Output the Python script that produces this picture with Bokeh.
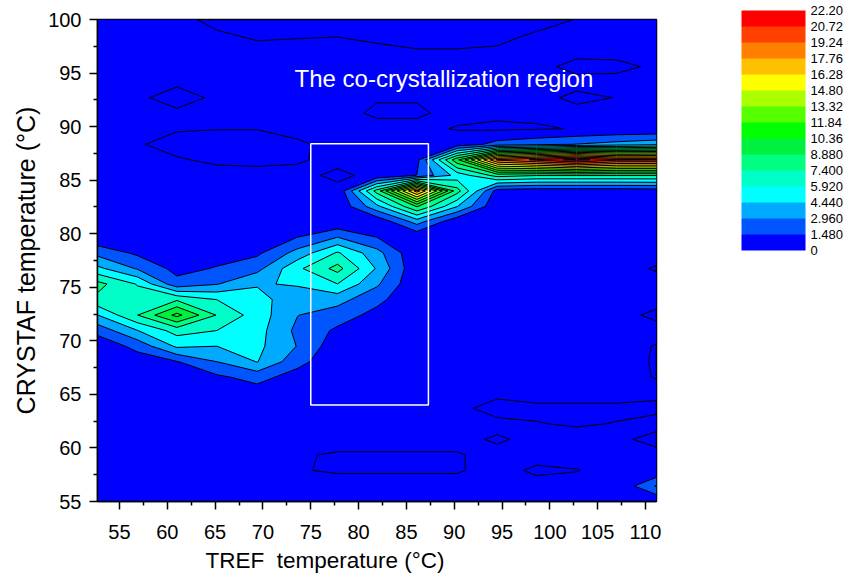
import numpy as np
from bokeh.plotting import figure
from bokeh.models import Range1d, FixedTicker, Label, ColorBar, LinearColorMapper, Title
from bokeh.embed import file_html
from bokeh.resources import INLINE

# ---- data ----
TREF = [52.7, 56.9, 61.0, 65.2, 69.4, 73.6, 77.8, 81.9, 86.1, 90.3, 94.5, 98.6, 102.8, 107.0, 111.15]
CRYSTAF = [55.0, 56.45, 57.9, 59.35, 60.8, 62.25, 63.7, 65.15, 66.6, 68.05, 69.5, 70.95,
           72.4, 73.85, 75.3, 76.75, 78.2, 79.65, 81.1, 82.55, 84.0, 85.45, 86.9, 88.35,
           89.8, 91.25, 92.7, 94.15, 95.6, 97.05, 98.5, 100.0]

# one row per CRYSTAF value (columns follow TREF)
Z_100_0 = [0.2, 0.2, 0.2, -0.2, -0.3, -0.3, -0.3, -0.3, -0.3, -0.3, -0.3, -0.3, 0.02, 0.2, 0.2]
Z_98_5 = [0.2, 0.2, 0.2, 0.1, -0.1, -0.05, -0.02, -0.2, -0.3, -0.3, -0.2, 0.1, 0.2, 0.2, 0.2]
Z_97_05 = [0.2, 0.2, 0.2, 0.2, 0.2, 0.2, 0.2, 0.2, 0.05, 0.05, 0.1, 0.2, 0.2, 0.2, 0.2]
Z_95_6 = [0.2, 0.2, 0.2, 0.2, 0.2, 0.2, 0.2, 0.2, 0.2, 0.2, 0.2, 0.2, -0.2, -0.15, 0.1]
Z_94_15 = [0.2, 0.2, 0.2, 0.2, 0.2, 0.2, 0.2, 0.2, 0.2, 0.2, 0.2, 0.2, 0.2, 0.2, 0.2]
Z_92_7 = [0.2, 0.2, -0.45, 0.2, 0.2, 0.2, 0.2, 0.05, 0.05, 0.2, 0.2, 0.2, -0.15, 0.02, 0.2]
Z_91_25 = [0.2, 0.2, 0.2, 0.2, 0.2, 0.2, 0.2, -0.1, -0.1, 0.2, 0.2, 0.2, 0.2, 0.2, 0.2]
Z_89_8 = [0.2, 0.2, 0.05, 0.02, 0.02, 0.2, 0.2, 0.2, 0.2, -0.05, -0.2, -0.1, 0.05, 0.2, 0.2]
Z_88_35 = [0.2, 0.05, -0.2, -0.3, -0.3, -0.1, 0.2, 0.2, 0.2, 0.5, 2.0, 2.5, 3.0, 3.5, 4.0]
Z_86_9 = [0.2, 0.2, 0.05, -0.1, -0.15, -0.08, 0.2, 0.2, 1.0, 10.0, 19.5, 21.0, 22.8, 21.0, 20.9]
Z_85_45 = [0.2, 0.2, 0.2, 0.2, 0.2, 0.2, -0.15, 0.2, 1.5, 5.0, 8.0, 7.5, 7.5, 7.5, 7.5]
Z_84_0 = [0.2, 0.2, 0.2, 0.2, 0.2, 0.2, 0.2, 8.0, 18.5, 8.0, 0.8, 0.5, 0.5, 0.5, 0.6]
Z_82_55 = [0.2, 0.2, 0.2, 0.2, 0.2, 0.2, 0.2, 4.0, 9.0, 4.5, 0.2, 0.2, 0.2, 0.2, 0.2]
Z_81_1 = [0.2, 0.2, 0.2, 0.2, 0.2, 0.3, 0.24, 0.2, 3.5, 0.2, 0.2, 0.2, 0.2, 0.2, 0.2]
Z_79_65 = [0.3, 0.2, 0.2, 0.2, 0.3, 1.5, 3.0, 1.5, 0.2, 0.2, 0.2, 0.2, 0.2, 0.2, 0.2]
Z_78_2 = [2.5, 1.2, 0.4, 0.8, 1.2, 3.5, 6.1, 3.5, 0.2, 0.2, 0.2, 0.2, 0.2, 0.2, 0.2]
Z_76_75 = [4.8, 2.8, 1.0, 1.6, 2.5, 5.6, 7.9, 4.3, 0.2, 0.2, 0.2, 0.2, 0.2, 0.2, -0.05]
Z_75_3 = [7.9, 5.8, 2.0, 2.9, 4.3, 4.6, 5.9, 3.2, 0.2, 0.2, 0.2, 0.2, 0.2, 0.2, 0.2]
Z_73_85 = [7.0, 6.8, 7.2, 5.9, 5.0, 3.5, 3.5, 1.9, 0.2, 0.2, 0.2, 0.2, 0.2, 0.2, 0.2]
Z_72_4 = [4.4, 7.4, 10.8, 7.3, 5.2, 3.0, 2.2, 1.0, 0.2, 0.2, 0.2, 0.2, 0.2, 0.2, -0.13]
Z_70_95 = [2.0, 4.4, 6.5, 5.9, 5.0, 2.6, 1.2, 0.4, 0.2, 0.2, 0.2, 0.2, 0.2, 0.2, 0.2]
Z_69_5 = [0.3, 2.0, 4.7, 4.44, 4.8, 2.9, 0.5, 0.2, 0.2, 0.2, 0.2, 0.2, 0.2, 0.2, -0.03]
Z_68_05 = [0.2, 0.6, 1.4, 2.96, 4.5, 2.0, 0.3, 0.2, 0.2, 0.2, 0.2, 0.2, 0.2, 0.2, -0.05]
Z_66_6 = [0.2, 0.2, 0.3, 1.2, 2.0, 0.8, 0.2, 0.2, 0.2, 0.2, 0.2, 0.2, 0.2, 0.2, -0.03]
Z_65_15 = [0.2, 0.2, 0.2, 0.3, 0.8, 0.2, 0.2, 0.2, 0.2, 0.2, 0.2, 0.2, 0.2, 0.2, 0.2]
Z_63_7 = [0.2, 0.2, 0.2, 0.2, 0.2, 0.2, 0.2, 0.2, 0.2, 0.2, -0.3, -0.1, -0.1, -0.1, -0.2]
Z_62_25 = [0.2, 0.2, 0.2, 0.2, 0.2, 0.2, 0.2, 0.2, 0.2, 0.2, 0.2, 0.02, -0.05, 0.02, 0.3]
Z_60_8 = [0.2, 0.2, 0.2, 0.2, 0.2, 0.2, 0.2, 0.2, 0.2, 0.2, -0.09, 0.2, 0.2, 0.2, -0.3]
Z_59_35 = [0.2, 0.2, 0.2, 0.2, 0.2, 0.05, -0.05, -0.05, -0.05, -0.05, 0.2, 0.2, 0.2, 0.2, 0.3]
Z_57_9 = [0.2, 0.2, 0.2, 0.2, 0.2, 0.03, -0.05, -0.05, -0.05, -0.05, 0.2, -0.1, -0.02, 0.2, 0.2]
Z_56_45 = [0.2, 0.2, 0.2, 0.2, 0.2, 0.2, 0.2, 0.2, 0.2, 0.2, 0.2, 0.2, 0.2, 0.2, 3.1]
Z_55_0 = [0.2, 0.2, 0.2, 0.2, 0.2, 0.2, 0.2, 0.2, 0.2, 0.2, 0.2, 0.2, 0.2, 0.2, 0.2]

Z_ROWS = [Z_55_0, Z_56_45, Z_57_9, Z_59_35, Z_60_8, Z_62_25, Z_63_7, Z_65_15, Z_66_6,
          Z_68_05, Z_69_5, Z_70_95, Z_72_4, Z_73_85, Z_75_3, Z_76_75, Z_78_2, Z_79_65,
          Z_81_1, Z_82_55, Z_84_0, Z_85_45, Z_86_9, Z_88_35, Z_89_8, Z_91_25, Z_92_7,
          Z_94_15, Z_95_6, Z_97_05, Z_98_5, Z_100_0]

LEVELS = [0.0, 1.48, 2.96, 4.44, 5.92, 7.40, 8.88, 10.36, 11.84, 13.32, 14.80, 16.28,
          17.76, 19.24, 20.72, 22.20]
LEVEL_LABELS = ["0", "1.480", "2.960", "4.440", "5.920", "7.400", "8.880", "10.36",
                "11.84", "13.32", "14.80", "16.28", "17.76", "19.24", "20.72", "22.20"]
BAND_COLORS = ["#0000FF", "#0055FF", "#00AAFF", "#00FFFF", "#00FFC8", "#00FF80",
               "#00F040", "#00FF00", "#55FF00", "#AAFF00", "#FFFF00", "#FFC000",
               "#FF8000", "#FF4000", "#FF0000"]
OVER_COLOR = "#FFFFFF"
OVER_LEVEL = 40.0

X_TICKS = [55, 60, 65, 70, 75, 80, 85, 90, 95, 100, 105, 110]
X_MINOR = [52.5, 57.5, 62.5, 67.5, 72.5, 77.5, 82.5, 87.5, 92.5, 97.5, 102.5, 107.5]
Y_TICKS = [55, 60, 65, 70, 75, 80, 85, 90, 95, 100]
Y_MINOR = [57.5, 62.5, 67.5, 72.5, 77.5, 82.5, 87.5, 92.5, 97.5]

X_TITLE = "TREF\u00a0 temperature (°C)"
Y_TITLE = "CRYSTAF temperature (°C)"
REGION_TREF = (75.0, 87.3)
REGION_CRYSTAF = (64.0, 88.4)
REGION_TEXT = "The co-crystallization region"

FONT = "Liberation Sans"
W, H = 846, 577

# ---- main contour plot ----
p = figure(width=W, height=H,
           x_range=Range1d(52.7, 111.15), y_range=Range1d(55, 100),
           output_backend="svg", toolbar_location=None,
           min_border_left=97, min_border_right=W - 656, min_border_top=19,
           min_border_bottom=H - 501,
           background_fill_color="#0000FF", border_fill_color="white",
           outline_line_color="black", outline_line_width=1.5)
p.grid.visible = False

z = np.array(Z_ROWS, dtype=float)
p.contour(x=np.array(TREF), y=np.array(CRYSTAF), z=z,
          levels=LEVELS + [OVER_LEVEL],
          fill_color=BAND_COLORS + [OVER_COLOR],
          line_color="black", line_width=1)

p.quad(left=[REGION_TREF[0]], right=[REGION_TREF[1]],
       bottom=[REGION_CRYSTAF[0]], top=[REGION_CRYSTAF[1]],
       fill_alpha=0, line_color="white", line_width=1.5)

p.add_layout(Label(x=73.3, y=94.5, text=REGION_TEXT, text_color="white",
                   text_font=FONT, text_font_size="24px", text_baseline="middle"))

for ax, ticks, minor in ((p.xaxis, X_TICKS, X_MINOR), (p.yaxis, Y_TICKS, Y_MINOR)):
    ax.ticker = FixedTicker(ticks=ticks, minor_ticks=minor)
    ax.major_tick_in = 0
    ax.major_tick_out = 8
    ax.minor_tick_in = 0
    ax.minor_tick_out = 4
    ax.axis_line_width = 1.5
    ax.major_tick_line_width = 1.5
    ax.minor_tick_line_width = 1.5
    ax.major_label_text_font = FONT
    ax.major_label_text_font_size = "20px"
    ax.major_label_text_color = "black"

p.xaxis.major_label_standoff = 15
p.yaxis.major_label_standoff = 8

# axis titles (placed like the original, slightly off-centre)
p.add_layout(Title(text=X_TITLE, align="left", offset=108, standoff=8,
                   text_font=FONT, text_font_size="22.5px", text_font_style="normal",
                   text_color="black"), "below")
p.add_layout(Title(text=Y_TITLE, align="center", offset=8, standoff=11,
                   text_font=FONT, text_font_size="25px", text_font_style="normal",
                   text_color="black"), "left")

# ---- colour scale ----
mapper = LinearColorMapper(palette=BAND_COLORS, low=LEVELS[0], high=LEVELS[-1])
cbar = ColorBar(color_mapper=mapper, orientation="vertical",
                ticker=FixedTicker(ticks=LEVELS),
                major_label_overrides={float(lv): lab for lv, lab in zip(LEVELS, LEVEL_LABELS)},
                width=64, height=240, location=(741 - 97, 501 - 250),
                padding=0, margin=0, label_standoff=5,
                major_tick_line_color=None, minor_tick_line_color=None,
                bar_line_color=None, border_line_color=None, background_fill_alpha=0,
                major_label_text_font=FONT, major_label_text_font_size="13px",
                major_label_text_color="black")
p.add_layout(cbar)

open("out.html", "w").write(file_html(p, INLINE))
